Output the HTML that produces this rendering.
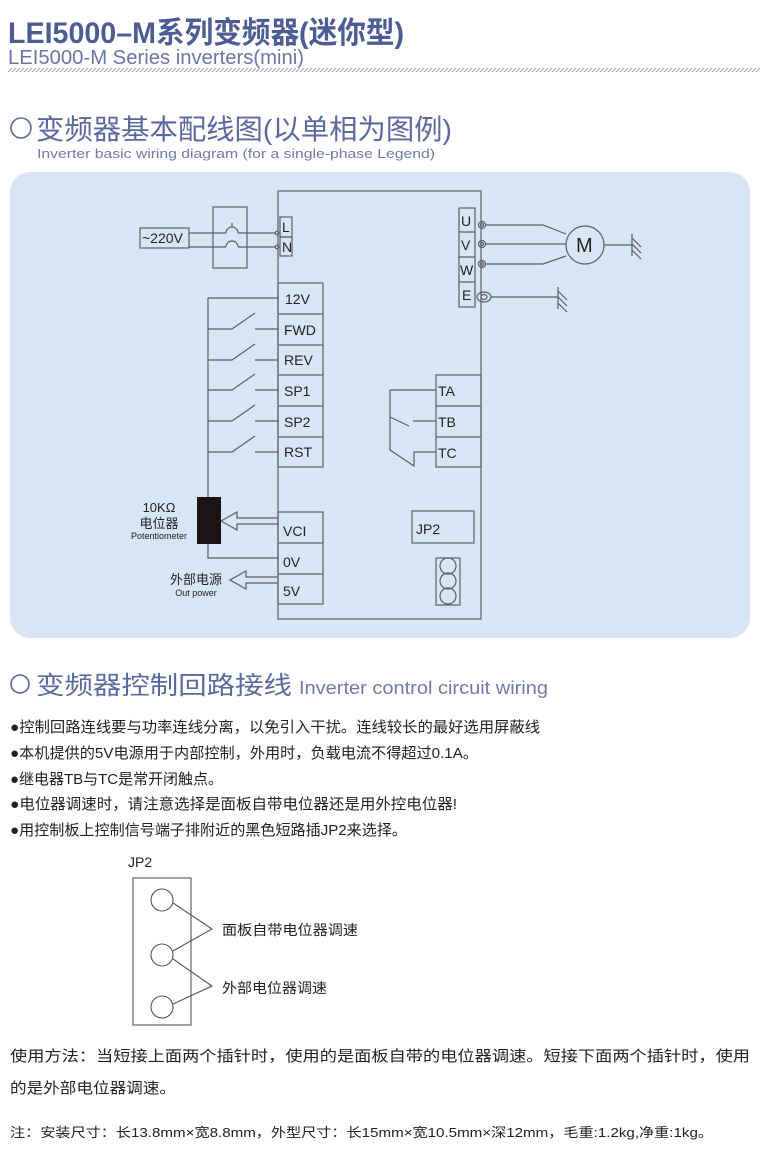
<!DOCTYPE html>
<html><head><meta charset="utf-8">
<style>
html,body{margin:0;padding:0;background:#fff;}
body{width:770px;height:1166px;overflow:hidden;position:relative;}
svg{position:absolute;left:0;top:0;}
text{font-family:"Liberation Sans","Noto Sans CJK SC",sans-serif;}
</style></head><body>
<svg width="770" height="1166" viewBox="0 0 770 1166" xmlns="http://www.w3.org/2000/svg">
<defs>
<pattern id="hatch" width="4" height="4" patternUnits="userSpaceOnUse"><path d="M0 4 L4 0" stroke="#a0a6b8" stroke-width="1"/></pattern>
</defs>
<!-- header -->
<text x="8" y="43" font-size="30" font-weight="bold" fill="#4d5d93" textLength="396" lengthAdjust="spacingAndGlyphs">LEI5000–M系列变频器(迷你型)</text>
<text x="8" y="64" font-size="20" fill="#6b77a3" textLength="296" lengthAdjust="spacingAndGlyphs">LEI5000-M Series inverters(mini)</text>
<rect x="8" y="68" width="752" height="4" fill="url(#hatch)"/>
<circle cx="21" cy="128" r="10" fill="none" stroke="#5a6a9e" stroke-width="1.6"/>
<text x="36" y="139" font-size="28" fill="#5a6a9e" textLength="416" lengthAdjust="spacingAndGlyphs">变频器基本配线图(以单相为图例)</text>
<text x="37" y="158" font-size="13" fill="#6f7ba6" textLength="398" lengthAdjust="spacingAndGlyphs">Inverter basic wiring diagram (for a single-phase Legend)</text>
<!-- panel -->
<rect x="10" y="172" width="740" height="466" rx="20" fill="#d8e5f4"/>
<g stroke="#5b5f66" stroke-width="1.2" fill="none">
<rect x="278" y="191" width="203" height="428"/>
<!-- power input -->
<rect x="140" y="228" width="49" height="20"/>
<rect x="213" y="207" width="34" height="61"/>
<rect x="280" y="217" width="12" height="20"/><rect x="280" y="237" width="12" height="19"/>
<path d="M189 233 H226 M238 233 H276 M189 247 H226 M238 247 H276"/>
<path d="M226 233 A6 6 0 0 1 238 233 M226 247 A6 6 0 0 1 238 247 M232 223 V227"/>
<circle cx="277" cy="233" r="1.8"/><circle cx="277" cy="247" r="1.8"/>
<!-- control terminals -->
<rect x="278" y="283" width="45" height="184"/>
<path d="M278 314 H323 M278 345 H323 M278 375 H323 M278 406 H323 M278 437 H323"/>
<path d="M208 298 H278 M208 298 V497 M208 544 V558 H278"/>
<path d="M208 329 H232 L255 313 M255 329 H278"/>
<path d="M208 360 H232 L255 344 M255 360 H278"/>
<path d="M208 390 H232 L255 374 M255 390 H278"/>
<path d="M208 421 H232 L255 405 M255 421 H278"/>
<path d="M208 452 H232 L255 436 M255 452 H278"/>
<!-- relay -->
<rect x="436" y="375" width="45" height="92"/>
<path d="M436 406 H481 M436 437 H481"/>
<path d="M436 390 H390 V450 L414 466 V452 H436"/>
<path d="M390 417 L409 426 M413 421 H436"/>
<!-- UVWE -->
<rect x="459" y="208" width="16" height="99"/>
<path d="M459 232 H475 M459 257 H475 M459 282 H475"/>
<circle cx="482" cy="225" r="3.5"/><circle cx="482" cy="225" r="1.5"/>
<circle cx="482" cy="244" r="3.5"/><circle cx="482" cy="244" r="1.5"/>
<circle cx="482" cy="264" r="3.5"/><circle cx="482" cy="264" r="1.5"/>
<ellipse cx="484" cy="297" rx="7" ry="5"/><ellipse cx="484" cy="297" rx="3" ry="2.5"/>
<path d="M486 225 H543 L566 234 M486 244 H566 M486 264 H543 L566 256"/>
<circle cx="585" cy="245" r="19"/>
<path d="M604 245 H632 M632 234 V256 M632 238 L641 247 M632 244 L641 253 M632 250 L641 259"/>
<path d="M491 297 H558 M558 287 V309 M558 291 L567 300 M558 297 L567 306 M558 303 L567 312"/>
<!-- VCI 0V 5V -->
<rect x="278" y="512" width="45" height="92"/>
<path d="M278 543 H323 M278 574 H323"/>
<rect x="412" y="511" width="62" height="32"/>
<rect x="436" y="558" width="24" height="47"/>
<circle cx="448" cy="566" r="8"/><circle cx="448" cy="581" r="8"/><circle cx="448" cy="596" r="8"/>
<!-- arrows -->
<path d="M278 518 H237 V512 L221 521 L237 530 V524 H278"/>
<path d="M278 577 H246 V571 L230 580 L246 589 V583 H278"/>
</g>
<rect x="197" y="497" width="24" height="47" fill="#1a1414"/>
<g font-size="14" fill="#222">
<text x="142" y="243" font-size="14">~220V</text>
<text x="282" y="232" font-size="14">L</text>
<text x="282" y="252" font-size="14">N</text>
<text x="285" y="304">12V</text><text x="284" y="335">FWD</text><text x="284" y="365">REV</text>
<text x="284" y="396">SP1</text><text x="284" y="427">SP2</text><text x="284" y="457">RST</text>
<text x="438" y="396">TA</text><text x="438" y="427">TB</text><text x="438" y="458">TC</text>
<text x="461" y="226">U</text><text x="461" y="250">V</text><text x="460" y="275">W</text><text x="462" y="300">E</text>
<text x="576" y="252" font-size="20">M</text>
<text x="283" y="536">VCI</text><text x="283" y="567">0V</text><text x="283" y="596">5V</text>
<text x="416" y="534">JP2</text>
<text x="159" y="512" font-size="13" text-anchor="middle">10KΩ</text>
<text x="159" y="528" font-size="13" text-anchor="middle">电位器</text>
<text x="159" y="539" font-size="9" text-anchor="middle">Potentiometer</text>
<text x="196" y="584" font-size="13" text-anchor="middle">外部电源</text>
<text x="196" y="596" font-size="9" text-anchor="middle">Out power</text>
</g>
<!-- section 2 -->
<circle cx="20" cy="684" r="9" fill="none" stroke="#5a6a9e" stroke-width="1.6"/>
<text x="36" y="694" font-size="25" fill="#5a6a9e" textLength="256" lengthAdjust="spacingAndGlyphs">变频器控制回路接线</text>
<text x="299" y="694" font-size="18" fill="#6f7ba6" textLength="249" lengthAdjust="spacingAndGlyphs">Inverter control circuit wiring</text>
<g font-size="15" fill="#222">
<text x="10" y="732" textLength="530" lengthAdjust="spacingAndGlyphs">●控制回路连线要与功率连线分离，以免引入干扰。连线较长的最好选用屏蔽线</text>
<text x="10" y="758" textLength="468" lengthAdjust="spacingAndGlyphs">●本机提供的5V电源用于内部控制，外用时，负载电流不得超过0.1A。</text>
<text x="10" y="784" textLength="213" lengthAdjust="spacingAndGlyphs">●继电器TB与TC是常开闭触点。</text>
<text x="10" y="809" textLength="447" lengthAdjust="spacingAndGlyphs">●电位器调速时，请注意选择是面板自带电位器还是用外控电位器!</text>
<text x="10" y="835" textLength="397" lengthAdjust="spacingAndGlyphs">●用控制板上控制信号端子排附近的黑色短路插JP2来选择。</text>
</g>
<!-- JP2 -->
<text x="128" y="867" font-size="14" fill="#222">JP2</text>
<g stroke="#555" stroke-width="1.1" fill="none">
<rect x="133" y="878" width="58" height="147"/>
<circle cx="162" cy="900" r="11"/><circle cx="162" cy="955" r="11"/><circle cx="162" cy="1007" r="11"/>
<path d="M173 903 L212 929 L173 951 M173 959 L212 986 L173 1004"/>
</g>
<text x="222" y="935" font-size="14" fill="#222" textLength="136" lengthAdjust="spacingAndGlyphs">面板自带电位器调速</text>
<text x="222" y="993" font-size="14" fill="#222" textLength="105" lengthAdjust="spacingAndGlyphs">外部电位器调速</text>
<g font-size="15" fill="#222">
<text x="10" y="1061" textLength="740" lengthAdjust="spacingAndGlyphs">使用方法：当短接上面两个插针时，使用的是面板自带的电位器调速。短接下面两个插针时，使用</text>
<text x="10" y="1093" textLength="166" lengthAdjust="spacingAndGlyphs">的是外部电位器调速。</text>
<text x="10" y="1137" font-size="13" textLength="703" lengthAdjust="spacingAndGlyphs">注：安装尺寸：长13.8mm×宽8.8mm，外型尺寸：长15mm×宽10.5mm×深12mm，毛重:1.2kg,净重:1kg。</text>
</g>
</svg>
</body></html>
